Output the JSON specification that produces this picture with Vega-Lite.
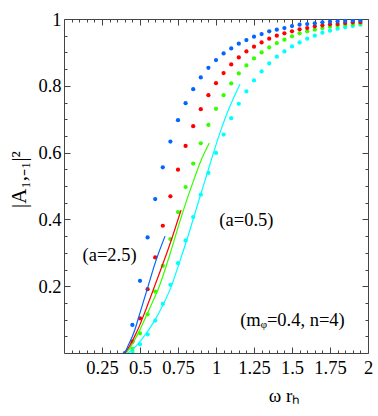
{
  "$schema": "https://vega.github.io/schema/vega-lite/v6.json",
  "width": 304,
  "height": 334,
  "autosize": {"type": "none"},
  "padding": {"left": 64, "top": 19, "right": 10, "bottom": 63},
  "config": {
    "view": {"stroke": "#444", "strokeWidth": 1},
    "font": "Liberation Serif",
    "axis": {
      "domain": false,
      "grid": false,
      "tickColor": "#444",
      "tickWidth": 1,
      "labelFont": "Liberation Serif",
      "labelFontSize": 18.5,
      "labelColor": "black",
      "titleFont": "Liberation Serif",
      "titleFontSize": 19,
      "titleFontWeight": "normal",
      "titleColor": "black"
    }
  },
  "datasets": {
    "points": [
      {"series": "a=0.5", "x": 0.45, "y": 0.004},
      {"series": "a=0.5", "x": 0.5, "y": 0.026},
      {"series": "a=0.5", "x": 0.55, "y": 0.056},
      {"series": "a=0.5", "x": 0.6, "y": 0.097},
      {"series": "a=0.5", "x": 0.65, "y": 0.147},
      {"series": "a=0.5", "x": 0.7, "y": 0.204},
      {"series": "a=0.5", "x": 0.75, "y": 0.269},
      {"series": "a=0.5", "x": 0.8, "y": 0.337},
      {"series": "a=0.5", "x": 0.85, "y": 0.407},
      {"series": "a=0.5", "x": 0.9, "y": 0.474},
      {"series": "a=0.5", "x": 0.95, "y": 0.539},
      {"series": "a=0.5", "x": 1.0, "y": 0.599},
      {"series": "a=0.5", "x": 1.05, "y": 0.654},
      {"series": "a=0.5", "x": 1.1, "y": 0.703},
      {"series": "a=0.5", "x": 1.15, "y": 0.746},
      {"series": "a=0.5", "x": 1.2, "y": 0.783},
      {"series": "a=0.5", "x": 1.25, "y": 0.816},
      {"series": "a=0.5", "x": 1.3, "y": 0.843},
      {"series": "a=0.5", "x": 1.35, "y": 0.867},
      {"series": "a=0.5", "x": 1.4, "y": 0.887},
      {"series": "a=0.5", "x": 1.45, "y": 0.903},
      {"series": "a=0.5", "x": 1.5, "y": 0.918},
      {"series": "a=0.5", "x": 1.55, "y": 0.930},
      {"series": "a=0.5", "x": 1.6, "y": 0.941},
      {"series": "a=0.5", "x": 1.65, "y": 0.950},
      {"series": "a=0.5", "x": 1.7, "y": 0.959},
      {"series": "a=0.5", "x": 1.75, "y": 0.965},
      {"series": "a=0.5", "x": 1.8, "y": 0.971},
      {"series": "a=0.5", "x": 1.85, "y": 0.975},
      {"series": "a=0.5", "x": 1.9, "y": 0.979},
      {"series": "a=0.5", "x": 1.95, "y": 0.983},
      {"series": "a=1.0", "x": 0.45, "y": 0.012},
      {"series": "a=1.0", "x": 0.5, "y": 0.059},
      {"series": "a=1.0", "x": 0.55, "y": 0.116},
      {"series": "a=1.0", "x": 0.6, "y": 0.184},
      {"series": "a=1.0", "x": 0.65, "y": 0.261},
      {"series": "a=1.0", "x": 0.7, "y": 0.341},
      {"series": "a=1.0", "x": 0.75, "y": 0.422},
      {"series": "a=1.0", "x": 0.8, "y": 0.497},
      {"series": "a=1.0", "x": 0.85, "y": 0.567},
      {"series": "a=1.0", "x": 0.9, "y": 0.628},
      {"series": "a=1.0", "x": 0.95, "y": 0.683},
      {"series": "a=1.0", "x": 1.0, "y": 0.731},
      {"series": "a=1.0", "x": 1.05, "y": 0.772},
      {"series": "a=1.0", "x": 1.1, "y": 0.807},
      {"series": "a=1.0", "x": 1.15, "y": 0.837},
      {"series": "a=1.0", "x": 1.2, "y": 0.861},
      {"series": "a=1.0", "x": 1.25, "y": 0.882},
      {"series": "a=1.0", "x": 1.3, "y": 0.900},
      {"series": "a=1.0", "x": 1.35, "y": 0.915},
      {"series": "a=1.0", "x": 1.4, "y": 0.928},
      {"series": "a=1.0", "x": 1.45, "y": 0.938},
      {"series": "a=1.0", "x": 1.5, "y": 0.948},
      {"series": "a=1.0", "x": 1.55, "y": 0.957},
      {"series": "a=1.0", "x": 1.6, "y": 0.963},
      {"series": "a=1.0", "x": 1.65, "y": 0.968},
      {"series": "a=1.0", "x": 1.7, "y": 0.973},
      {"series": "a=1.0", "x": 1.75, "y": 0.977},
      {"series": "a=1.0", "x": 1.8, "y": 0.980},
      {"series": "a=1.0", "x": 1.85, "y": 0.983},
      {"series": "a=1.0", "x": 1.9, "y": 0.985},
      {"series": "a=1.0", "x": 1.95, "y": 0.987},
      {"series": "a=1.5", "x": 0.45, "y": 0.034},
      {"series": "a=1.5", "x": 0.5, "y": 0.104},
      {"series": "a=1.5", "x": 0.55, "y": 0.191},
      {"series": "a=1.5", "x": 0.6, "y": 0.286},
      {"series": "a=1.5", "x": 0.65, "y": 0.381},
      {"series": "a=1.5", "x": 0.7, "y": 0.469},
      {"series": "a=1.5", "x": 0.75, "y": 0.549},
      {"series": "a=1.5", "x": 0.8, "y": 0.620},
      {"series": "a=1.5", "x": 0.85, "y": 0.679},
      {"series": "a=1.5", "x": 0.9, "y": 0.730},
      {"series": "a=1.5", "x": 0.95, "y": 0.772},
      {"series": "a=1.5", "x": 1.0, "y": 0.808},
      {"series": "a=1.5", "x": 1.05, "y": 0.838},
      {"series": "a=1.5", "x": 1.1, "y": 0.864},
      {"series": "a=1.5", "x": 1.15, "y": 0.885},
      {"series": "a=1.5", "x": 1.2, "y": 0.903},
      {"series": "a=1.5", "x": 1.25, "y": 0.917},
      {"series": "a=1.5", "x": 1.3, "y": 0.930},
      {"series": "a=1.5", "x": 1.35, "y": 0.941},
      {"series": "a=1.5", "x": 1.4, "y": 0.950},
      {"series": "a=1.5", "x": 1.45, "y": 0.957},
      {"series": "a=1.5", "x": 1.5, "y": 0.963},
      {"series": "a=1.5", "x": 1.55, "y": 0.969},
      {"series": "a=1.5", "x": 1.6, "y": 0.973},
      {"series": "a=1.5", "x": 1.65, "y": 0.978},
      {"series": "a=1.5", "x": 1.7, "y": 0.981},
      {"series": "a=1.5", "x": 1.75, "y": 0.984},
      {"series": "a=1.5", "x": 1.8, "y": 0.985},
      {"series": "a=1.5", "x": 1.85, "y": 0.988},
      {"series": "a=1.5", "x": 1.9, "y": 0.990},
      {"series": "a=1.5", "x": 1.95, "y": 0.991},
      {"series": "a=2.5", "x": 0.4, "y": 0.0},
      {"series": "a=2.5", "x": 0.45, "y": 0.084},
      {"series": "a=2.5", "x": 0.5, "y": 0.216},
      {"series": "a=2.5", "x": 0.55, "y": 0.346},
      {"series": "a=2.5", "x": 0.6, "y": 0.461},
      {"series": "a=2.5", "x": 0.65, "y": 0.556},
      {"series": "a=2.5", "x": 0.7, "y": 0.633},
      {"series": "a=2.5", "x": 0.75, "y": 0.697},
      {"series": "a=2.5", "x": 0.8, "y": 0.748},
      {"series": "a=2.5", "x": 0.85, "y": 0.790},
      {"series": "a=2.5", "x": 0.9, "y": 0.825},
      {"series": "a=2.5", "x": 0.95, "y": 0.854},
      {"series": "a=2.5", "x": 1.0, "y": 0.877},
      {"series": "a=2.5", "x": 1.05, "y": 0.897},
      {"series": "a=2.5", "x": 1.1, "y": 0.912},
      {"series": "a=2.5", "x": 1.15, "y": 0.926},
      {"series": "a=2.5", "x": 1.2, "y": 0.937},
      {"series": "a=2.5", "x": 1.25, "y": 0.947},
      {"series": "a=2.5", "x": 1.3, "y": 0.955},
      {"series": "a=2.5", "x": 1.35, "y": 0.963},
      {"series": "a=2.5", "x": 1.4, "y": 0.968},
      {"series": "a=2.5", "x": 1.45, "y": 0.973},
      {"series": "a=2.5", "x": 1.5, "y": 0.979},
      {"series": "a=2.5", "x": 1.55, "y": 0.983},
      {"series": "a=2.5", "x": 1.6, "y": 0.985},
      {"series": "a=2.5", "x": 1.65, "y": 0.987},
      {"series": "a=2.5", "x": 1.7, "y": 0.990},
      {"series": "a=2.5", "x": 1.75, "y": 0.992},
      {"series": "a=2.5", "x": 1.8, "y": 0.993},
      {"series": "a=2.5", "x": 1.85, "y": 0.994},
      {"series": "a=2.5", "x": 1.9, "y": 0.995},
      {"series": "a=2.5", "x": 1.95, "y": 0.996}
    ],
    "lines": [
      {"series": "a=0.5", "x": 0.42, "y": 0.0},
      {"series": "a=0.5", "x": 0.45, "y": 0.01},
      {"series": "a=0.5", "x": 0.51, "y": 0.04},
      {"series": "a=0.5", "x": 0.6, "y": 0.1},
      {"series": "a=0.5", "x": 0.65, "y": 0.143},
      {"series": "a=0.5", "x": 0.702, "y": 0.195},
      {"series": "a=0.5", "x": 0.75, "y": 0.258},
      {"series": "a=0.5", "x": 0.829, "y": 0.369},
      {"series": "a=0.5", "x": 0.884, "y": 0.452},
      {"series": "a=0.5", "x": 0.928, "y": 0.517},
      {"series": "a=0.5", "x": 1.026, "y": 0.659},
      {"series": "a=0.5", "x": 1.09, "y": 0.737},
      {"series": "a=0.5", "x": 1.158, "y": 0.805},
      {"series": "a=1.0", "x": 0.41, "y": 0.0},
      {"series": "a=1.0", "x": 0.44, "y": 0.02},
      {"series": "a=1.0", "x": 0.5, "y": 0.07},
      {"series": "a=1.0", "x": 0.56, "y": 0.13},
      {"series": "a=1.0", "x": 0.627, "y": 0.2},
      {"series": "a=1.0", "x": 0.7, "y": 0.3},
      {"series": "a=1.0", "x": 0.763, "y": 0.395},
      {"series": "a=1.0", "x": 0.807, "y": 0.457},
      {"series": "a=1.0", "x": 0.85, "y": 0.513},
      {"series": "a=1.0", "x": 0.9, "y": 0.575},
      {"series": "a=1.0", "x": 0.956, "y": 0.629},
      {"series": "a=1.5", "x": 0.4, "y": 0.0},
      {"series": "a=1.5", "x": 0.43, "y": 0.02},
      {"series": "a=1.5", "x": 0.47, "y": 0.055},
      {"series": "a=1.5", "x": 0.5, "y": 0.085},
      {"series": "a=1.5", "x": 0.53, "y": 0.12},
      {"series": "a=1.5", "x": 0.6, "y": 0.205},
      {"series": "a=1.5", "x": 0.7, "y": 0.33},
      {"series": "a=1.5", "x": 0.77, "y": 0.428},
      {"series": "a=2.5", "x": 0.4, "y": 0.0},
      {"series": "a=2.5", "x": 0.42, "y": 0.02},
      {"series": "a=2.5", "x": 0.45, "y": 0.05},
      {"series": "a=2.5", "x": 0.47, "y": 0.075},
      {"series": "a=2.5", "x": 0.5, "y": 0.12},
      {"series": "a=2.5", "x": 0.55, "y": 0.195},
      {"series": "a=2.5", "x": 0.6, "y": 0.27},
      {"series": "a=2.5", "x": 0.665, "y": 0.35}
    ],
    "labels": [
      {"x": 0.30, "y": 0.294, "text": "(a=2.5)"},
      {"x": 1.2, "y": 0.399, "text": "(a=0.5)"},
      {"x": 1.503, "y": 0.099, "text": "(mᵩ=0.4, n=4)"}
    ]
  },
  "layer": [
    {
      "data": {"name": "points"},
      "mark": {"type": "circle", "size": 18, "opacity": 1, "clip": true},
      "encoding": {
        "x": {
          "field": "x", "type": "quantitative",
          "scale": {"domain": [0, 2], "nice": false, "zero": false},
          "axis": {
            "orient": "bottom",
            "title": "ω rₕ",
            "titleX": 220,
            "titlePadding": 10,
            "values": [0.05,0.1,0.15,0.2,0.25,0.3,0.35,0.4,0.45,0.5,0.55,0.6,0.65,0.7,0.75,0.8,0.85,0.9,0.95,1,1.05,1.1,1.15,1.2,1.25,1.3,1.35,1.4,1.45,1.5,1.55,1.6,1.65,1.7,1.75,1.8,1.85,1.9,1.95,2],
            "labelExpr": "abs(datum.value*4-round(datum.value*4))<0.001 ? '' + datum.value : ''",
            "tickSize": {"condition": {"test": "abs(datum.value*4-round(datum.value*4))<0.001", "value": -6}, "value": -3},
            "labelPadding": 11,
            "labelFlush": false
          }
        },
        "y": {
          "field": "y", "type": "quantitative",
          "scale": {"domain": [0, 1], "nice": false, "zero": false},
          "axis": {
            "orient": "left",
            "title": "|A₁,₋₁|²",
            "titleFontSize": 21,
            "titlePadding": 8,
            "titleY": 160,
            "values": [0.05,0.1,0.15,0.2,0.25,0.3,0.35,0.4,0.45,0.5,0.55,0.6,0.65,0.7,0.75,0.8,0.85,0.9,0.95,1],
            "labelExpr": "abs(datum.value*5-round(datum.value*5))<0.001 ? '' + datum.value : ''",
            "tickSize": {"condition": {"test": "abs(datum.value*5-round(datum.value*5))<0.001", "value": -6}, "value": -3},
            "labelPadding": 9,
            "labelFlush": false
          }
        },
        "color": {
          "field": "series", "type": "nominal",
          "scale": {"domain": ["a=2.5", "a=1.5", "a=1.0", "a=0.5"], "range": ["#0066ff", "#ff0000", "#33ff00", "#00ffff"]},
          "legend": null
        }
      }
    },
    {
      "data": {"name": "lines"},
      "mark": {"type": "line", "interpolate": "monotone", "strokeWidth": 1.2, "clip": true},
      "encoding": {
        "x": {
          "field": "x", "type": "quantitative",
          "scale": {"domain": [0, 2], "nice": false, "zero": false},
          "axis": {
            "orient": "top",
            "title": null,
            "labels": false,
            "values": [0.05,0.1,0.15,0.2,0.25,0.3,0.35,0.4,0.45,0.5,0.55,0.6,0.65,0.7,0.75,0.8,0.85,0.9,0.95,1,1.05,1.1,1.15,1.2,1.25,1.3,1.35,1.4,1.45,1.5,1.55,1.6,1.65,1.7,1.75,1.8,1.85,1.9,1.95,2],
            "tickSize": {"condition": {"test": "abs(datum.value*4-round(datum.value*4))<0.001", "value": -6}, "value": -3}
          }
        },
        "y": {
          "field": "y", "type": "quantitative",
          "scale": {"domain": [0, 1], "nice": false, "zero": false},
          "axis": {
            "orient": "right",
            "title": null,
            "labels": false,
            "values": [0.05,0.1,0.15,0.2,0.25,0.3,0.35,0.4,0.45,0.5,0.55,0.6,0.65,0.7,0.75,0.8,0.85,0.9,0.95,1],
            "tickSize": {"condition": {"test": "abs(datum.value*5-round(datum.value*5))<0.001", "value": -6}, "value": -3}
          }
        },
        "color": {"field": "series", "type": "nominal", "legend": null},
        "detail": {"field": "series"}
      }
    },
    {
      "data": {"name": "labels"},
      "mark": {"type": "text", "font": "Liberation Serif", "fontSize": 18.5, "color": "black", "align": "center", "baseline": "middle"},
      "encoding": {
        "x": {"field": "x", "type": "quantitative", "axis": null},
        "y": {"field": "y", "type": "quantitative", "axis": null},
        "text": {"field": "text"}
      }
    }
  ],
  "resolve": {"axis": {"x": "independent", "y": "independent"}}
}
